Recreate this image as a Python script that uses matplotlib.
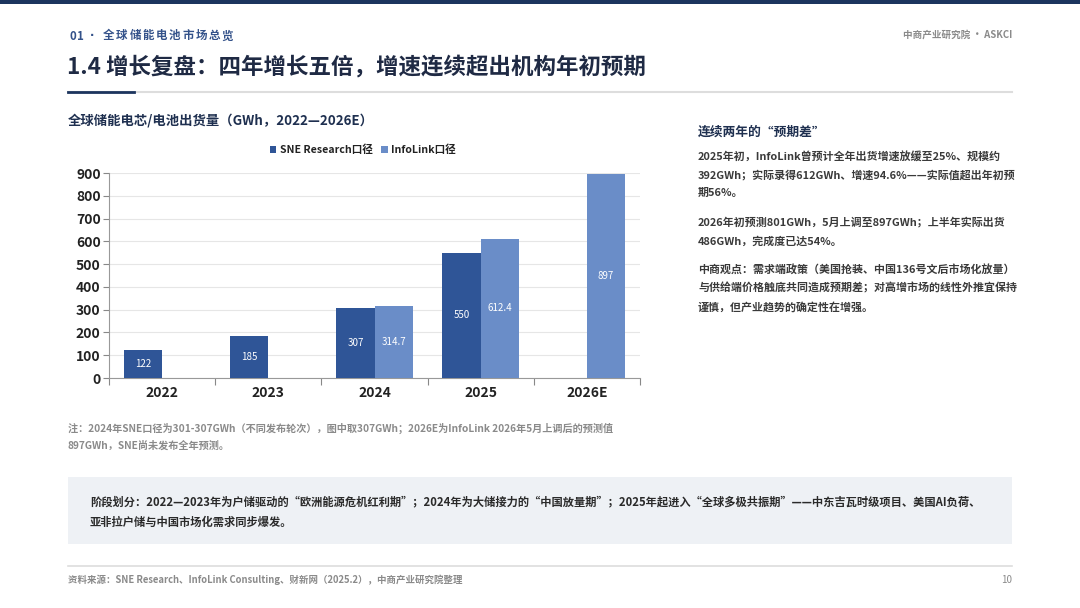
import matplotlib
matplotlib.use("Agg")
import matplotlib.pyplot as plt
import numpy as np
from matplotlib.patches import Rectangle

plt.rcParams['font.family'] = ['Noto Sans CJK SC', 'DejaVu Sans']

# ---- data ----
years = ["2022", "2023", "2024", "2025", "2026E"]
sne = [122, 185, 307, 550, np.nan]
infolink = [np.nan, np.nan, 314.7, 612.4, 897]
sne_labels = ["122", "185", "307", "550", ""]
info_labels = ["", "", "314.7", "612.4", "897"]
yticks = [0, 100, 200, 300, 400, 500, 600, 700, 800, 900]
series_names = ["SNE Research口径", "InfoLink口径"]

W, H = 1080, 608
fig = plt.figure(figsize=(W / 100, H / 100), dpi=100)
fig.patch.set_facecolor("white")


def fx(x):
    return x / W


def fy(y):
    return 1 - y / H


def txt(x, y, s, **kw):
    kw.setdefault("va", "center")
    fig.text(fx(x), fy(y), s, **kw)


# top bar
fig.add_artist(Rectangle((0, fy(4)), 1, 4 / H, transform=fig.transFigure,
                         color="#1C355E", lw=0))

# section label with letter spacing
sec_col = "#34528A"
txt(69, 36, "0", fontsize=8.3, color=sec_col, weight="bold")
txt(77, 36, "1", fontsize=8.3, color=sec_col, weight="bold")
txt(92, 36, "·", fontsize=8.3, color=sec_col, weight="bold", ha="center",
    family=["DejaVu Sans"])
for i, ch in enumerate("全球储能电池市场总览"):
    txt(103 + i * 13.2, 36, ch, fontsize=8.3, color=sec_col, weight="bold")

txt(1012, 35, "中商产业研究院 · ASKCI", fontsize=6.9, color="#8A8A8A",
    weight="bold", ha="right")
txt(67, 67, "1.4 增长复盘：四年增长五倍，增速连续超出机构年初预期",
    fontsize=16.2, color="#1F2A44", weight="bold")

# divider line
fig.add_artist(plt.Line2D([fx(68), fx(1012)], [fy(92), fy(92)],
                          transform=fig.transFigure, color="#DDDDDD", lw=1.5))
fig.add_artist(plt.Line2D([fx(68), fx(134)], [fy(92), fy(92)],
                          transform=fig.transFigure, color="#1C355E", lw=2))

# chart title
txt(68, 120, "全球储能电芯/电池出货量（GWh，2022—2026E）", fontsize=9.6,
    color="#1F3050", weight="bold")

# ---- chart ----
ax = fig.add_axes([fx(109), fy(378), 531 / W, 205 / H])
x = np.arange(len(years))
bw = 0.36
dark = "#2F5597"
light = "#6A8DC8"
ax.bar(x - bw / 2, sne, bw, color=dark, label=series_names[0], zorder=3)
ax.bar(x + bw / 2, infolink, bw, color=light, label=series_names[1], zorder=3)

for xi, v, lab in zip(x, sne, sne_labels):
    if lab:
        ax.text(xi - bw / 2, v / 2, lab, ha="center", va="center",
                color="white", fontsize=7, zorder=4)
for xi, v, lab in zip(x, infolink, info_labels):
    if lab:
        ax.text(xi + bw / 2, v / 2, lab, ha="center", va="center",
                color="white", fontsize=7, zorder=4)

ax.set_xlim(-0.5, len(years) - 0.5)
ax.set_ylim(0, 900)
ax.set_yticks(yticks)
ax.set_yticklabels([str(t) for t in yticks], fontsize=10, weight="bold",
                   color="#222222")
ax.set_xticks(x)
ax.set_xticklabels(years, fontsize=10, weight="bold", color="#222222")
ax.tick_params(axis="x", length=0, pad=6)
ax.tick_params(axis="y", length=4, width=0.8, color="#888888", pad=2)
ax.set_xticks(np.arange(-0.5, len(years), 1.0), minor=True)
ax.tick_params(axis="x", which="minor", length=5, width=0.8, color="#888888")
ax.grid(axis="y", color="#E6E6E6", lw=0.8, zorder=0)
for s in ["top", "right"]:
    ax.spines[s].set_visible(False)
for s in ["left", "bottom"]:
    ax.spines[s].set_color("#999999")
    ax.spines[s].set_linewidth(0.8)

leg = ax.legend(ncol=2, loc="center", bbox_to_anchor=(fx(363), fy(150)),
                bbox_transform=fig.transFigure, frameon=False,
                handlelength=0.6, handleheight=0.6, columnspacing=0.8,
                handletextpad=0.35,
                prop={"size": 7.6, "weight": "bold",
                      "family": ['Noto Sans CJK SC', 'DejaVu Sans']})
for t in leg.get_texts():
    t.set_color("#222222")

# ---- right text ----
txt(698, 132, "连续两年的“预期差”", fontsize=9.2, color="#1F3050", weight="bold")
para_col = "#3A3A3A"
lines = [
    (156, "2025年初，InfoLink曾预计全年出货增速放缓至25%、规模约"),
    (175, "392GWh；实际录得612GWh、增速94.6%——实际值超出年初预"),
    (193, "期56%。"),
    (222, "2026年初预测801GWh，5月上调至897GWh；上半年实际出货"),
    (241, "486GWh，完成度已达54%。"),
    (269, "中商观点：需求端政策（美国抢装、中国136号文后市场化放量）"),
    (288, "与供给端价格触底共同造成预期差；对高增市场的线性外推宜保持"),
    (307, "谨慎，但产业趋势的确定性在增强。"),
]
for y, s in lines:
    txt(698, y, s, fontsize=7.9, color=para_col, weight="bold")

# ---- note ----
note_col = "#8A8A8A"
txt(68, 428, "注：2024年SNE口径为301-307GWh（不同发布轮次），图中取307GWh；2026E为InfoLink 2026年5月上调后的预测值",
    fontsize=7.3, color=note_col, weight="bold")
txt(68, 446, "897GWh，SNE尚未发布全年预测。", fontsize=7.3, color=note_col,
    weight="bold")

# ---- bottom box ----
fig.add_artist(Rectangle((fx(68), fy(544)), (1012 - 68) / W, (544 - 477) / H,
                         transform=fig.transFigure, color="#EEF1F5", lw=0))
txt(90, 502, "阶段划分：2022—2023年为户储驱动的“欧洲能源危机红利期”；2024年为大储接力的“中国放量期”；2025年起进入“全球多极共振期”——中东吉瓦时级项目、美国AI负荷、",
    fontsize=8.1, color="#2A2A2A", weight="bold")
txt(90, 522, "亚非拉户储与中国市场化需求同步爆发。", fontsize=8.1, color="#2A2A2A",
    weight="bold")

# ---- footer ----
fig.add_artist(plt.Line2D([fx(68), fx(1012)], [fy(566), fy(566)],
                          transform=fig.transFigure, color="#DDDDDD", lw=1.2))
txt(68, 580, "资料来源：SNE Research、InfoLink Consulting、财新网（2025.2），中商产业研究院整理",
    fontsize=6.8, color=note_col, weight="bold")
txt(1012, 580, "10", fontsize=7, color=note_col, ha="right")

fig.savefig("out.png", dpi=100, facecolor="white")
